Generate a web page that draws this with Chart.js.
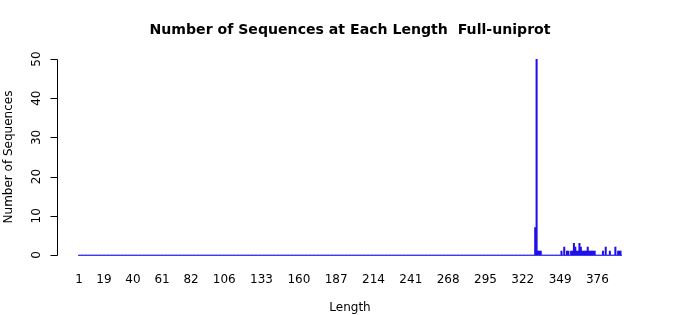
<!DOCTYPE html>
<html>
<head>
<meta charset="utf-8">
<script src="https://cdn.jsdelivr.net/npm/chart.js@4/dist/chart.umd.min.js"></script>
<style>
  html, body { margin: 0; padding: 0; background: #fff; }
  #wrap { width: 700px; height: 315px; }
</style>
</head>
<body>
<div id="wrap"><canvas id="chart" width="700" height="315"></canvas></div>
<script>
// sequence lengths 1..393 (one bar per length)
const maxLength = 393
const lengths = []
for (let i = 1; i <= maxLength; i++) lengths.push(String(i))

// lengths that have sequences, and how many
const seenLengths = [331, 332, 333, 334, 335,
    350, 352, 354, 355, 357, 358, 359, 360, 361, 362, 363, 364, 365, 366, 367, 368, 369, 370, 371, 372, 373, 374,
    380, 382, 385, 389, 391, 392, 393]
const seenCounts = [7, 50, 1, 1, 1,
    1, 2, 1, 1, 1, 1, 3, 2, 1, 1, 3, 2, 1, 1, 1, 1, 2, 1, 1, 1, 1, 1,
    1, 2, 1, 2, 1, 1, 1]

const xTickLabels = ['1', '19', '40', '61', '82', '106', '133', '160', '187', '214', '241', '268', '295', '322', '349', '376']
const yTickValues = [0, 10, 20, 30, 40, 50]

const counts = lengths.map(() => 0)
seenLengths.forEach((len, i) => { counts[len - 1] = seenCounts[i] })

const FONT = "'DejaVu Sans', 'Liberation Sans', sans-serif"

// R-style y axis: spine pulled away from the bars, labels turned 90 degrees
const rAxisY = {
    id: 'rAxisY',
    afterDraw(chart) {
        const ctx = chart.ctx
        const y = chart.scales.y
        const x0 = Math.round(chart.chartArea.left - 21.5) + 0.5
        const top = y.getPixelForValue(yTickValues[yTickValues.length - 1])
        const bottom = y.getPixelForValue(yTickValues[0])
        ctx.save()
        ctx.strokeStyle = '#000'
        ctx.lineWidth = 1
        ctx.beginPath()
        ctx.moveTo(x0, Math.round(bottom) + 0.5)
        ctx.lineTo(x0, Math.round(top) + 0.5)
        yTickValues.forEach(v => {
            const py = Math.round(y.getPixelForValue(v)) + 0.5
            ctx.moveTo(x0, py)
            ctx.lineTo(x0 - 7, py)
        })
        ctx.stroke()

        ctx.fillStyle = '#000'
        ctx.font = '12px ' + FONT
        ctx.textAlign = 'center'
        ctx.textBaseline = 'middle'
        yTickValues.forEach(v => {
            const py = y.getPixelForValue(v)
            ctx.save()
            ctx.translate(x0 - 21, py)
            ctx.rotate(-Math.PI / 2)
            ctx.fillText(String(v), 0, 0)
            ctx.restore()
        })

        // axis title
        ctx.translate(9, (top + bottom) / 2)
        ctx.rotate(-Math.PI / 2)
        ctx.fillText('Number of Sequences', 0, 0)
        ctx.restore()
    }
}

new Chart(document.getElementById('chart'), {
    type: 'bar',
    data: {
        labels: lengths,
        datasets: [{
            label: 'Sequences',
            data: counts,
            backgroundColor: '#2210e6',
            borderWidth: 0,
            barPercentage: 1.0,
            categoryPercentage: 1.0
        }]
    },
    options: {
        responsive: false,
        animation: false,
        events: [],
        layout: { padding: { left: 78.4, right: 78.4, top: 0, bottom: 0 } },
        plugins: {
            legend: { display: false },
            tooltip: { enabled: false },
            title: {
                display: true,
                text: 'Number of Sequences at Each Length  Full-uniprot',
                color: '#000',
                font: { family: FONT, size: 14.1, weight: 'bold' },
                padding: { top: 21.5, bottom: 20.6 }
            }
        },
        scales: {
            x: {
                offset: true,
                grid: { display: false, drawTicks: false },
                border: { display: true, color: '#3a3aff', width: 1 },
                ticks: {
                    autoSkip: false,
                    maxRotation: 0,
                    minRotation: 0,
                    padding: 18,
                    color: '#000',
                    font: { family: FONT, size: 12 },
                    callback: function (value) {
                        const lab = this.getLabelForValue(value)
                        return xTickLabels.includes(lab) ? lab : null
                    }
                },
                title: {
                    display: true,
                    text: 'Length',
                    color: '#000',
                    font: { family: FONT, size: 12 },
                    padding: { top: 0, bottom: 0 }
                },
                afterFit(scale) { scale.height = 60 }
            },
            y: {
                display: false,
                min: 0,
                max: 50
            }
        }
    },
    plugins: [rAxisY]
})
</script>
</body>
</html>
